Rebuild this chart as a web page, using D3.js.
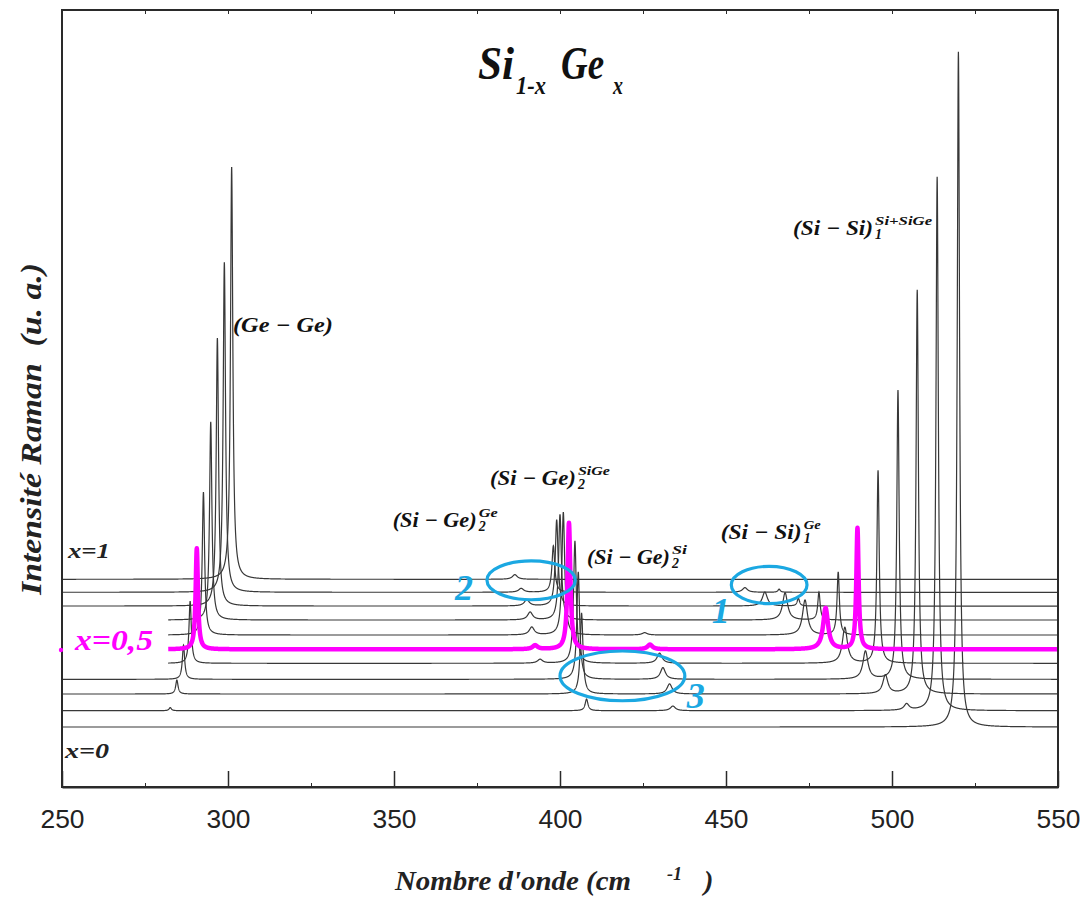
<!DOCTYPE html>
<html><head><meta charset="utf-8">
<script src="https://cdn.jsdelivr.net/npm/d3@7"></script>
<style>body{margin:0;background:#fff} svg{display:block}</style>
</head><body><svg id="c" width="1086" height="899"></svg>
<script>
// ---------------- DATA ----------------
const wavenumberDomain = [250, 550];
const intensityDomain = [0, 100];
const majorTicks = [250, 300, 350, 400, 450, 500, 550];
const minorTicks = [275, 325, 375, 425, 475, 525];
const topTicks = [275, 300, 325, 350, 375, 400, 425, 450, 475, 500, 525];

const compositions   = [0, 0.1, 0.2, 0.3, 0.4, 0.5, 0.6, 0.7, 0.8, 0.9, 1];
const baselineOffset = [7.72, 9.82, 11.97, 13.86, 15.92, 17.72, 19.56, 21.49, 23.29, 25.06, 26.73];
const traceStart     = [250, 250, 250, 250, 282, 282, 282, 282, 250, 250, 250];

// Ge-Ge mode
const geGePos    = [null, 282.6, 284.6, 286.6, 288.6, 290.6, 292.6, 294.8, 296.8, 298.9, 301.1];
const geGeHeight = [0, 0.4, 1.8, 4.4, 8.0, 13.0, 18.4, 25.5, 34.5, 42.5, 53.1];
// (Si-Ge)2 SiGe main mode
const siGePos    = [null, 408.0, 406.5, 405.5, 404.5, 402.7, 401.0, 400.0, 399.0, 398.0, null];
const siGeHeight = [0, 1.5, 10.4, 13.8, 15.7, 16.3, 15.8, 13.6, 11.1, 6.0, 0];
// (Si-Ge)2 Ge (low side)
const siGeLowPos    = [null, null, null, null, 394.0, 392.5, 391.5, 391.0, 390.0, 388.3, 386.4];
const siGeLowHeight = [0, 0, 0, 0, 0.5, 0.5, 1.0, 1.0, 0.8, 0.5, 0.6];
// (Si-Ge)2 Si (high side)
const siGeHighPos    = [null, 434.0, 433.0, 431.0, 430.0, 427.1, 425.5, null, null, null, null];
const siGeHighHeight = [0, 0.6, 1.3, 1.5, 1.3, 0.6, 0.3, 0, 0, 0, 0];
// (Si-Si)1 Si+SiGe main mode
const siSiPos    = [520.0, 513.6, 507.6, 501.8, 495.8, 489.6, 483.8, 478.0, 471.8, 466.0, null];
const siSiHeight = [86.9, 68.7, 52.0, 37.2, 24.8, 15.6, 8.1, 3.6, 1.0, 0.4, 0];
// (Si-Si)1 Ge mode
const siSiGePos    = [null, 504.4, 498.0, 492.0, 485.8, 480.0, 473.8, 467.8, 461.7, 455.7, null];
const siSiGeHeight = [0, 0.8, 2.4, 3.6, 4.6, 5.3, 4.5, 3.5, 1.8, 0.6, 0];

// Lorentzian half widths (cm-1)
const gammaMain = 0.42;
const gammaSmall = 0.9;

const highlightComposition = 0.5;

// ---------------- CHART ----------------
const svg = d3.select('#c');
const M = {left: 62, right: 1058, top: 10, bottom: 787};
const x = d3.scaleLinear().domain(wavenumberDomain).range([M.left, M.right]);
const y = d3.scaleLinear().domain(intensityDomain).range([M.bottom, M.top]);

svg.append('defs').append('clipPath').attr('id', 'plotclip')
  .append('rect').attr('x', M.left).attr('y', M.top)
  .attr('width', M.right - M.left).attr('height', M.bottom - M.top);

function lor(w, p, h, g) { const d = w - p; return h * g * g / (d * d + g * g); }

function spectrum(i) {
  const peaks = [
    [geGePos[i], geGeHeight[i], gammaMain],
    [siGePos[i], siGeHeight[i], gammaMain * 1.2],
    [siGeLowPos[i], siGeLowHeight[i], gammaSmall],
    [siGeHighPos[i], siGeHighHeight[i], gammaSmall],
    [siSiPos[i], siSiHeight[i], gammaMain],
    [siSiGePos[i], siSiGeHeight[i], gammaSmall]
  ].filter(p => p[0] !== null && p[1] > 0);
  const pts = [];
  for (let w = traceStart[i]; w <= wavenumberDomain[1] + 1e-9; w += 0.04) {
    let v = baselineOffset[i];
    for (const p of peaks) v += lor(w, p[0], p[1], p[2]);
    pts.push([w, v]);
  }
  return pts;
}

const line = d3.line().x(d => x(d[0])).y(d => y(d[1]));
const gTr = svg.append('g').attr('clip-path', 'url(#plotclip)');
compositions.forEach((c, i) => {
  if (c === highlightComposition) return;
  gTr.append('path').attr('d', line(spectrum(i)))
    .attr('fill', 'none').attr('stroke', '#383838').attr('stroke-width', 1.2);
});
const hi = compositions.indexOf(highlightComposition);
gTr.append('path').attr('d', line(spectrum(hi)))
  .attr('fill', 'none').attr('stroke', '#ff00ff').attr('stroke-width', 4.5)
  .attr('stroke-linejoin', 'round');

// frame
svg.append('rect').attr('x', M.left).attr('y', M.top)
  .attr('width', M.right - M.left).attr('height', M.bottom - M.top)
  .attr('fill', 'none').attr('stroke', '#2a2a2a').attr('stroke-width', 2);

// bottom axis
const axB = svg.append('g').attr('transform', `translate(0,${M.bottom})`)
  .call(d3.axisBottom(x).tickValues(majorTicks).tickSizeInner(-16).tickSizeOuter(0).tickPadding(23));
axB.select('.domain').attr('stroke', '#2a2a2a').attr('stroke-width', 2);
axB.selectAll('.tick line').attr('stroke', '#2a2a2a').attr('stroke-width', 1.5);
axB.selectAll('.tick text').attr('font-family', 'Liberation Sans, Arial, sans-serif')
  .attr('font-size', 25).attr('fill', '#222')
  .attr('textLength', 44).attr('lengthAdjust', 'spacingAndGlyphs');
svg.append('g').attr('transform', `translate(0,${M.bottom})`)
  .call(d3.axisBottom(x).tickValues(minorTicks).tickSizeInner(-4).tickSizeOuter(0).tickFormat(''))
  .call(g => g.select('.domain').remove())
  .selectAll('.tick line').attr('stroke', '#2a2a2a');
svg.append('g').attr('transform', `translate(0,${M.top})`)
  .call(d3.axisTop(x).tickValues(topTicks).tickSizeInner(-4).tickSizeOuter(0).tickFormat(''))
  .call(g => g.select('.domain').remove())
  .selectAll('.tick line').attr('stroke', '#2a2a2a');

// ---------------- TEXT ----------------
const serif = 'Liberation Serif, Times New Roman, serif';

// title
const title = svg.append('g').attr('font-family', serif).attr('font-style', 'italic')
  .attr('font-weight', 'bold').attr('fill', '#111');
title.append('text').attr('x', 478).attr('y', 79).attr('font-size', 46).attr('textLength', 36).attr('lengthAdjust', 'spacingAndGlyphs').text('Si');
title.append('text').attr('x', 516).attr('y', 94).attr('font-size', 25).attr('textLength', 30).attr('lengthAdjust', 'spacingAndGlyphs').text('1-x');
title.append('text').attr('x', 561).attr('y', 79).attr('font-size', 46).attr('textLength', 43).attr('lengthAdjust', 'spacingAndGlyphs').text('Ge');
title.append('text').attr('x', 613).attr('y', 94).attr('font-size', 25).attr('textLength', 10).attr('lengthAdjust', 'spacingAndGlyphs').text('x');

// axis titles
svg.append('text').attr('transform', 'translate(41,429) rotate(-90)')
  .attr('text-anchor', 'middle').attr('font-family', serif).attr('font-style', 'italic')
  .attr('font-weight', 'bold').attr('font-size', 29).attr('fill', '#222')
  .attr('textLength', 332).attr('lengthAdjust', 'spacingAndGlyphs')
  .text('Intensité Raman \u00a0(u. a.)');
const xt = svg.append('g').attr('font-family', serif).attr('font-style', 'italic')
  .attr('font-weight', 'bold').attr('fill', '#222');
xt.append('text').attr('x', 395).attr('y', 890).attr('font-size', 28)
  .attr('textLength', 236).attr('lengthAdjust', 'spacingAndGlyphs').text("Nombre d'onde (cm");
xt.append('text').attr('x', 667).attr('y', 880).attr('font-size', 18).text('-1');
xt.append('text').attr('x', 704).attr('y', 890).attr('font-size', 28).text(')');

// composition labels
const lab = svg.append('g').attr('font-family', serif).attr('font-style', 'italic').attr('font-weight', 'bold');
lab.append('text').attr('x', 68).attr('y', 558).attr('font-size', 20).attr('fill', '#222')
  .attr('textLength', 42).attr('lengthAdjust', 'spacingAndGlyphs').text('x=1');
lab.append('text').attr('x', 65).attr('y', 758).attr('font-size', 20).attr('fill', '#222')
  .attr('textLength', 44).attr('lengthAdjust', 'spacingAndGlyphs').text('x=0');
lab.append('text').attr('x', 75).attr('y', 650).attr('font-size', 29).attr('fill', '#ff00ff')
  .attr('textLength', 78).attr('lengthAdjust', 'spacingAndGlyphs').text('x=0,5');
svg.append('circle').attr('cx', 61).attr('cy', 650).attr('r', 2.2).attr('fill', '#ff00ff');

// peak annotations  [wavenumber, intensity] of left baseline point
const annotations = [
  {w: 301.5, v: 58.5, main: '(Ge − Ge)', len: 100},
  {w: 378.9, v: 38.9, main: '(Si − Ge)', len: 86, sub: '2', sup: 'SiGe', supLen: 32},
  {w: 349.6, v: 33.5, main: '(Si − Ge)', len: 84, sub: '2', sup: 'Ge', supLen: 19},
  {w: 408.1, v: 28.7, main: '(Si − Ge)', len: 83, sub: '2', sup: 'Si', supLen: 15},
  {w: 448.4, v: 31.9, main: '(Si − Si)', len: 81, sub: '1', sup: 'Ge', supLen: 17},
  {w: 470.2, v: 71.0, main: '(Si − Si)', len: 80, sub: '1', sup: 'Si+SiGe', supLen: 57}
];
const an = svg.append('g').attr('font-family', serif).attr('font-style', 'italic')
  .attr('font-weight', 'bold').attr('fill', '#111');
annotations.forEach(a => {
  const px = x(a.w), py = y(a.v);
  an.append('text').attr('x', px).attr('y', py).attr('font-size', 21)
    .attr('textLength', a.len).attr('lengthAdjust', 'spacingAndGlyphs').text(a.main);
  if (a.sup) {
    an.append('text').attr('x', px + a.len + 2).attr('y', py - 10).attr('font-size', 13)
      .attr('textLength', a.supLen).attr('lengthAdjust', 'spacingAndGlyphs').text(a.sup);
    an.append('text').attr('x', px + a.len + 2).attr('y', py + 4).attr('font-size', 14).text(a.sub);
  }
});

// highlighted regions (ellipses) in data coordinates
const regions = [
  {label: '1', cw: 463.0, cv: 26.0, rw: 11.4, rv: 2.4, lw: 445.7, lv: 21.1},
  {label: '2', cw: 391.3, cv: 26.6, rw: 13.3, rv: 2.5, lw: 368.4, lv: 24.1},
  {label: '3', cw: 418.8, cv: 14.3, rw: 18.8, rv: 3.2, lw: 438.2, lv: 10.2}
];
const blue = '#1ba8e2';
const rg = svg.append('g');
regions.forEach(r => {
  rg.append('ellipse').attr('cx', x(r.cw)).attr('cy', y(r.cv))
    .attr('rx', x(r.cw + r.rw) - x(r.cw)).attr('ry', y(r.cv) - y(r.cv + r.rv))
    .attr('fill', 'none').attr('stroke', blue).attr('stroke-width', 3.2);
  rg.append('text').attr('x', x(r.lw)).attr('y', y(r.lv))
    .attr('font-family', serif).attr('font-style', 'italic').attr('font-weight', 'bold')
    .attr('font-size', 36).attr('fill', blue).text(r.label);
});
</script></body></html>
